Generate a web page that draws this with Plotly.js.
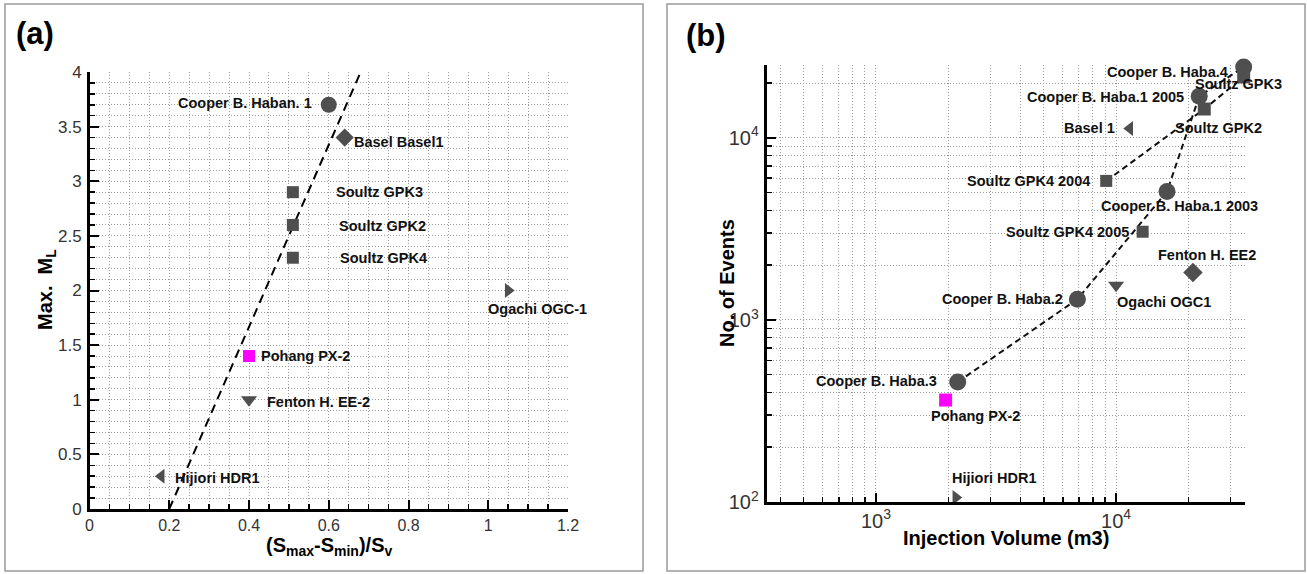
<!DOCTYPE html>
<html><head><meta charset="utf-8">
<script src="https://cdn.plot.ly/plotly-3.0.1.min.js"></script>
<style>html,body{margin:0;padding:0;background:#fff}#chart{width:1307px;height:574px}</style>
</head><body><div id="chart"></div><script>
// ---------- Panel (a) data ----------
const sitesA = ['Cooper B. Haban. 1','Basel Basel1','Soultz GPK3','Soultz GPK2','Soultz GPK4','Ogachi OGC-1','Pohang PX-2','Fenton H. EE-2','Hijiori HDR1'];
const stressRatioA = [0.60, 0.64, 0.51, 0.51, 0.51, 1.05, 0.40, 0.40, 0.18];
const maxMLA = [3.7, 3.4, 2.9, 2.6, 2.3, 2.0, 1.4, 1.0, 0.3];
const trendAX = [0.2, 0.68];
const trendAY = [0.0, 4.0];
const xTickA = [0, 0.2, 0.4, 0.6, 0.8, 1, 1.2];
const yTickA = [0, 0.5, 1, 1.5, 2, 2.5, 3, 3.5, 4];

// ---------- Panel (b) data ----------
const sitesB = ['Cooper B. Haba.4','Soultz GPK3','Cooper B. Haba.1 2005','Soultz GPK2','Basel 1','Soultz GPK4 2004','Cooper B. Haba.1 2003','Soultz GPK4 2005','Fenton H. EE2','Ogachi OGC1','Cooper B. Haba.2','Cooper B. Haba.3','Pohang PX-2','Hijiori HDR1'];
const volumeB = [34000, 34000, 22200, 23300, 11400, 9100, 16300, 12900, 20900, 10000, 6900, 2190, 1950, 2150];
const eventsB = [24500, 21600, 16900, 14400, 11250, 5800, 5070, 3050, 1820, 1550, 1300, 456, 363, 106];
const cooperLineSites = ['Cooper B. Haba.3','Cooper B. Haba.2','Cooper B. Haba.1 2003','Cooper B. Haba.1 2005','Cooper B. Haba.4'];
const soultzLineSites = ['Soultz GPK4 2004','Soultz GPK2','Soultz GPK3'];

// ---------- styles ----------
const FONT = 'Liberation Sans, Arial, Helvetica, sans-serif';
const GREY = '#4f4f4f', MAG = '#ff00ff';
const symA = ['circle','diamond','square','square','square','triangle-right','square','triangle-down','triangle-left'];
const sizeA = [16, 14, 12, 12, 12, 13, 12, 14, 13];
const colA = [GREY, GREY, GREY, GREY, GREY, GREY, MAG, GREY, GREY];
const labA = [ // [xanchor, xshift, yshift]
  ['right',-15,2],['left',7,-4],['left',41,0],['left',44,-1],['left',45,0],
  ['center',29,-18],['left',10,0],['left',16,-2],['left',12,-2]];

const symB = ['circle','square','circle','square','triangle-left','square','circle','square','diamond','triangle-down','circle','circle','square','triangle-right'];
const sizeB = [17, 13, 17, 13, 13, 12, 17, 12, 15, 14, 17, 17, 13, 13];
const colB = [GREY,GREY,GREY,GREY,GREY,GREY,GREY,GREY,GREY,GREY,GREY,GREY,MAG,GREY];
const labB = [
  ['right',-14,-5],['left',-51,-7],['right',-13,-1],['left',-31,-19],['right',-13,1],
  ['right',-14,0],['center',12,-14],['right',-12,0],['center',14,18],['center',48,-17],
  ['right',-12,0],['right',-19,1],['center',30,-16],['center',39,19]];

const W = 1307, H = 574;
const px = v => v / W, py = v => 1 - v / H;

const pick = (names, arr) => names.map(n => arr[sitesB.indexOf(n)]);

const traces = [
  {x: trendAX, y: trendAY, xaxis:'x', yaxis:'y', mode:'lines', line:{color:'#000', width:2, dash:'9px,6px'}, hoverinfo:'skip'},
  {x: stressRatioA, y: maxMLA, text: sitesA, xaxis:'x', yaxis:'y', mode:'markers', cliponaxis:false,
   marker:{symbol: symA, size: sizeA, color: colA, opacity:1, line:{width:0}}},
  {x: pick(cooperLineSites, volumeB), y: pick(cooperLineSites, eventsB), xaxis:'x2', yaxis:'y2', mode:'lines',
   line:{color:'#111', width:2, dash:'6px,4px'}, hoverinfo:'skip'},
  {x: pick(soultzLineSites, volumeB), y: pick(soultzLineSites, eventsB), xaxis:'x2', yaxis:'y2', mode:'lines',
   line:{color:'#111', width:2, dash:'6px,4px'}, hoverinfo:'skip'},
  {x: volumeB, y: eventsB, text: sitesB, xaxis:'x2', yaxis:'y2', mode:'markers', cliponaxis:false,
   marker:{symbol: symB, size: sizeB, color: colB, opacity:1, line:{width:0}}}
];

const labelFont = {family: FONT, size: 14.5, color:'#111', weight: 700};
const annotations = [];
sitesA.forEach((s, i) => annotations.push({
  xref:'x', yref:'y', x: stressRatioA[i], y: maxMLA[i], text: s, showarrow:false,
  xanchor: labA[i][0], yanchor:'middle', xshift: labA[i][1], yshift: labA[i][2], font: labelFont}));
sitesB.forEach((s, i) => annotations.push({
  xref:'x2', yref:'y2', x: Math.log10(volumeB[i]), y: Math.log10(eventsB[i]), text: s, showarrow:false,
  xanchor: labB[i][0], yanchor:'middle', xshift: labB[i][1], yshift: labB[i][2], font: labelFont}));
annotations.push({xref:'paper', yref:'paper', x: px(35), y: py(34), text:'(a)', showarrow:false,
  xanchor:'center', yanchor:'middle', font:{family: FONT, size: 31, color:'#000', weight: 700}});
annotations.push({xref:'paper', yref:'paper', x: px(706), y: py(35), text:'(b)', showarrow:false,
  xanchor:'center', yanchor:'middle', font:{family: FONT, size: 31, color:'#000', weight: 700}});
const titleFont = {family: FONT, size:20, color:'#000', weight:700};
// axis titles placed as texts to match the reference spacing
annotations.push({xref:'paper', yref:'paper', x: px(46), y: py(290), text:'Max.\u00A0\u00A0M<sub>L</sub>', showarrow:false,
  textangle:-90, xanchor:'center', yanchor:'middle', font: titleFont});
annotations.push({xref:'paper', yref:'paper', x: px(727), y: py(283), text:'No. of Events', showarrow:false,
  textangle:-90, xanchor:'center', yanchor:'middle', font: titleFont});
annotations.push({xref:'paper', yref:'paper', x: px(329), y: py(532), text:'(S<sub>max</sub>-S<sub>min</sub>)/S<sub>v</sub>', showarrow:false,
  xanchor:'center', yanchor:'top', font: titleFont});
annotations.push({xref:'paper', yref:'paper', x: px(1006), y: py(525), text:'Injection Volume (m3)', showarrow:false,
  xanchor:'center', yanchor:'top', font: titleFont});

const GRID = '#9c9c9c';
const gridCommon = {
  showgrid:true, gridcolor:GRID, gridwidth:1, griddash:'1px,2px',
  showline:true, linecolor:'#000', linewidth:2.5, zeroline:false,
  ticks:'inside', ticklen:9, tickwidth:2, tickcolor:'#000',
  tickfont:{family: FONT, size:16, color:'#333'}, ticklabelstandoff:0,
  automargin:false
};
const minorCommon = {ticks:'inside', ticklen:5, tickwidth:1.5, tickcolor:'#000',
  showgrid:true, gridcolor:GRID, gridwidth:1, griddash:'1px,2px'};

const layout = {
  width: W, height: H, margin:{l:0, r:0, t:0, b:0},
  paper_bgcolor:'#fff', plot_bgcolor:'#fff', showlegend:false,
  xaxis: Object.assign({}, gridCommon, {
    domain:[px(89.5), px(568)], anchor:'y', range:[0, 1.2], tickvals: xTickA,
    minor: Object.assign({dtick:0.05, tick0:0}, minorCommon)
  }),
  yaxis: Object.assign({}, gridCommon, {
    domain:[py(509), py(72)], anchor:'x', range:[0, 4], tickvals: yTickA, ticklabelstandoff:2,
    tickfont:{family: FONT, size:17, color:'#333'},
    minor: Object.assign({dtick:0.1, tick0:0}, minorCommon)
  }),
  xaxis2: Object.assign({}, gridCommon, {
    type:'log', domain:[px(766.5), px(1245)], anchor:'y2', range:[Math.log10(350), 4.537],
    dtick:1, exponentformat:'power', showexponent:'all',
    minor: Object.assign({dtick:'D1'}, minorCommon)
  }),
  yaxis2: Object.assign({}, gridCommon, {
    type:'log', domain:[py(502), py(65)], anchor:'x2', range:[2, 4.40],
    dtick:1, exponentformat:'power', showexponent:'all', ticklabelstandoff:2,
    minor: Object.assign({dtick:'D1'}, minorCommon)
  }),
  annotations: annotations,
  shapes: [
    {type:'rect', xref:'paper', yref:'paper', x0:px(5), x1:px(643), y0:py(571), y1:py(4), line:{color:'#9a9a9a', width:1.5}},
    {type:'rect', xref:'paper', yref:'paper', x0:px(667), x1:px(1305), y0:py(571), y1:py(4), line:{color:'#9a9a9a', width:1.5}}
  ]
};

Plotly.newPlot('chart', traces, layout, {displayModeBar:false, staticPlot:true});
</script></body></html>
